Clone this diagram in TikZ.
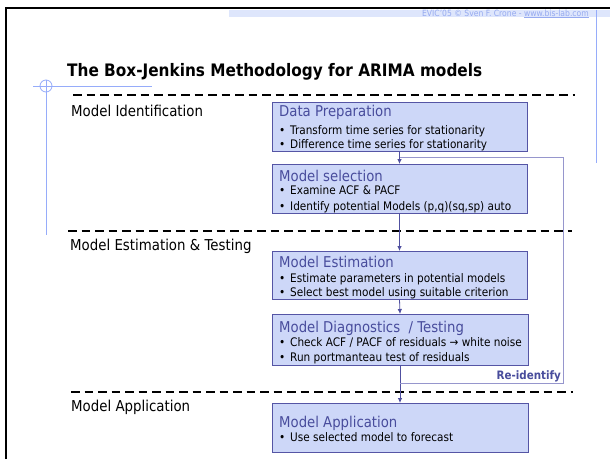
\documentclass[tikz,border=0pt]{standalone}
\usepackage{fontspec}
\setmainfont[FakeStretch=0.89]{DejaVu Sans}
\usetikzlibrary{arrows.meta,calc}
\definecolor{boxfill}{RGB}{205,215,248}
\definecolor{boxline}{RGB}{85,85,165}
\definecolor{ttlcol}{RGB}{72,76,156}
\definecolor{arrowcol}{RGB}{80,80,160}
\definecolor{fbcol}{RGB}{150,150,205}
\definecolor{guide}{RGB}{150,172,250}
\definecolor{strip}{RGB}{222,230,252}
\definecolor{headtxt}{RGB}{150,170,240}
\begin{document}
\begin{tikzpicture}[x=1pt,y=-1pt,
  box/.style={draw=boxline, fill=boxfill, line width=0.9pt, anchor=north west, inner sep=0pt, outer sep=0pt},
  ttl/.style={anchor=base west, inner sep=0pt, text=ttlcol, font=\fontsize{14.9}{16}\selectfont},
  bul/.style={anchor=base west, inner sep=0pt, font=\fontsize{11.8}{13}\selectfont},
  lab/.style={anchor=base west, inner sep=0pt, font=\fontsize{15}{17}\selectfont},
  dashline/.style={line width=1.8pt, dash pattern=on 8.5pt off 5pt},
  flow/.style={draw=arrowcol, line width=0.8pt, -{Latex[length=5pt,width=4.5pt]}},
  fb/.style={draw=fbcol, line width=0.8pt},
  guideline/.style={draw=guide, line width=0.8pt}]
\useasboundingbox[fill=white] (0,0) rectangle (610,459);
% frame
\draw[line width=2.3pt] (6,459) -- (6,8) -- (610,8);
% header strip
\fill[strip] (229,10) rectangle (610,17);
\node[anchor=base east, inner sep=0pt, text=headtxt, font=\fontsize{8.6}{10}\selectfont] (hdr) at (589,16) {EVIC'05 © Sven F. Crone - \underline{www.bis-lab.com}};
\draw[guideline] (596,10) -- (596,163);
% left crosshair
\draw[guideline] (33,86) -- (152,86);
\draw[guideline] (46,86) circle (6);
\draw[guideline] (46,80) -- (46,235);
% title
\node[anchor=base west, inner sep=0pt, font=\bfseries\fontsize{17.2}{20}\selectfont] (title) at (67,76) {The Box-Jenkins Methodology for ARIMA models};
% dashed separators
\draw[dashline] (73,95) -- (575,95);
\draw[dashline] (68,231) -- (572,231);
\draw[dashline] (71,392) -- (573,392);
% phase labels
\node[lab] (l1) at (71,116) {Model Identification};
\node[lab] (l2) at (70,250) {Model Estimation \& Testing};
\node[lab] (l3) at (71,411) {Model Application};
% boxes
\node[box, minimum width=255pt, minimum height=49pt] (dp) at (272,102) {};
\node[box, minimum width=255pt, minimum height=49pt] (ms) at (272,164) {};
\node[box, minimum width=255pt, minimum height=48pt] (me) at (272,251) {};
\node[box, minimum width=256pt, minimum height=51pt] (md) at (272,314) {};
\node[box, minimum width=256pt, minimum height=49pt] (ma) at (272,403) {};
% box texts
\node[ttl] (dpt) at (279,116) {Data Preparation};
\node[bul] (dpb1) at (279,134) {\makebox[11pt][l]{•}Transform time series for stationarity};
\node[bul] (dpb2) at (279,148) {\makebox[11pt][l]{•}Difference time series for stationarity};
\node[ttl] (mst) at (279,181) {Model selection};
\node[bul] (msb1) at (279,194) {\makebox[11pt][l]{•}Examine ACF \& PACF};
\node[bul] (msb2) at (279,210) {\makebox[11pt][l]{•}Identify potential Models (p,q)(sq,sp) auto};
\node[ttl] (met) at (279,267) {Model Estimation};
\node[bul] (meb1) at (279,282) {\makebox[11pt][l]{•}Estimate parameters in potential models};
\node[bul] (meb2) at (279,296) {\makebox[11pt][l]{•}Select best model using suitable criterion};
\node[ttl] (mdt) at (279,332) {Model Diagnostics \ / Testing};
\node[bul] (mdb1) at (279,346) {\makebox[11pt][l]{•}Check ACF / PACF of residuals → white noise};
\node[bul] (mdb2) at (279,361) {\makebox[11pt][l]{•}Run portmanteau test of residuals};
\node[ttl] (mat) at (279,427) {Model Application};
\node[bul] (mab1) at (279,441) {\makebox[11pt][l]{•}Use selected model to forecast};
% flow arrows
\draw[flow] (dp.south) -- (ms.north);
\draw[flow] (ms.south) -- (me.north);
\draw[flow] (me.south) -- (md.north);
\draw[flow] (md.south) -- (ma.north);
% feedback loop
\coordinate (rb) at (563,383);
\coordinate (rt) at (563,157);
\draw[fb] (md.south |- rb) -- (rb) -- (rt) -- (dp.south |- rt);
\node[anchor=base east, inner sep=0pt, text=ttlcol, font=\bfseries\fontsize{11.6}{13}\selectfont] (reid) at (561,379) {Re-identify};
\end{tikzpicture}
\end{document}
